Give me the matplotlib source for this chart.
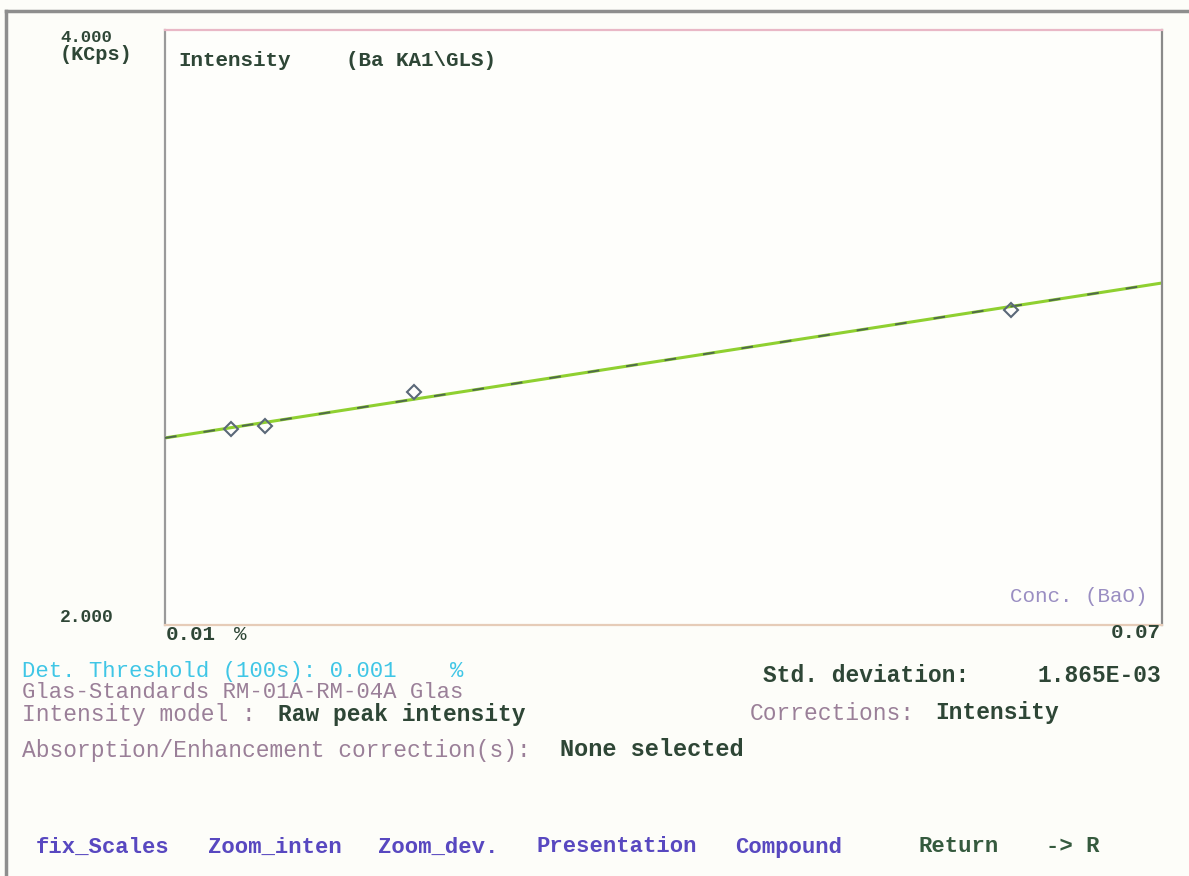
import matplotlib
matplotlib.use("Agg")
import matplotlib.pyplot as plt
from matplotlib.lines import Line2D
import numpy as np

# Calibration standards: concentration of BaO (%) vs. measured intensity (kcps)
conc = [0.0140, 0.0160, 0.0250, 0.0609]
intensity = [2.659, 2.669, 2.783, 3.059]

# Regression line of the calibration
fit_slope = 8.68
fit_intercept = 2.542

x_min, x_max = 0.01, 0.07
y_min, y_max = 2.0, 4.0

W, H = 1189, 876
fig = plt.figure(figsize=(W / 100, H / 100), dpi=100)
fig.patch.set_facecolor("#fdfdf9")

FONT = "Liberation Mono"
DARK = "#2e4636"
CYAN = "#3fc6e6"
PURP = "#9a7f98"
LAV = "#9a8ec2"
MENU = "#5848c0"


def px(x, y):
    return x / W, 1 - y / H


ax = fig.add_axes([165 / W, 1 - 625 / H, (1162 - 165) / W, (625 - 30) / H])
ax.set_facecolor("#fefefb")
ax.set_xlim(x_min, x_max)
ax.set_ylim(y_min, y_max)
ax.set_xticks([])
ax.set_yticks([])
ax.spines["top"].set_color("#e9b8c6")
ax.spines["bottom"].set_color("#e6ccb8")
ax.spines["left"].set_color("#9a9a9a")
ax.spines["right"].set_color("#8a8a8a")
for s in ax.spines.values():
    s.set_linewidth(1.6)

xs = np.array([x_min, x_max])
ys = fit_intercept + fit_slope * xs
ax.plot(xs, ys, color="#8fd030", lw=2.2, zorder=2)
ax.plot(xs, ys, color="#4f6a4a", lw=1.4, ls=(0, (6, 14)), zorder=3)
ax.plot(conc, intensity, ls="none", marker="D", ms=7, mfc="none",
        mec="#5a6878", mew=1.5, zorder=4)

# outer window border
fig.add_artist(Line2D([6 / W, 1], [1 - 11 / H, 1 - 11 / H], color="#8e8e8e", lw=2.5))
fig.add_artist(Line2D([6 / W, 6 / W], [0, 1 - 11 / H], color="#8e8e8e", lw=2.5))


def t(x, y, s, color=DARK, size=16, ha="left", weight="bold"):
    fig.text(*px(x, y), s, color=color, fontsize=size, ha=ha, va="center",
             family=FONT, weight=weight)


# axis labels
t(60, 37, "4.000", size=12.5)
t(60, 55, "(KCps)", size=14.5)
t(178, 60, "Intensity", size=15)
t(346, 60, "(Ba KA1\\GLS)", size=15)
t(60, 617, "2.000", size=13)
t(166, 634, "0.01", size=15)
t(234, 634, "%", size=15, weight="normal")
t(1161, 632, "0.07", size=15, ha="right")
t(1147, 597, "Conc. (BaO)", color=LAV, size=15, ha="right", weight="normal")

# information block
t(22, 671, "Det. Threshold (100s): 0.001    %", color=CYAN, size=16, weight="normal")
t(763, 675, "Std. deviation:", size=16.5)
t(1161, 675, "1.865E-03", size=16.5, ha="right")
t(22, 693, "Glas-Standards RM-01A-RM-04A Glas", color=PURP, size=16, weight="normal")
t(22, 714, "Intensity model :", color=PURP, size=16.5, weight="normal")
t(278, 714, "Raw peak intensity", size=16.5)
t(750, 713, "Corrections:", color=PURP, size=16.5, weight="normal")
t(935, 713, "Intensity", size=16.5)
t(22, 750, "Absorption/Enhancement correction(s):", color=PURP, size=16.5, weight="normal")
t(560, 750, "None selected", size=17)

# function-key menu
menu = [("fix_Scales", 36), ("Zoom_inten", 208), ("Zoom_dev.", 378),
        ("Presentation", 537), ("Compound", 735)]
for label, x in menu:
    t(x, 847, label, color=MENU, size=16)
t(919, 846, "Return", color="#355a3e", size=16)
t(1046, 846, "-> R", color="#355a3e", size=16)

fig.savefig("out.png", dpi=100, facecolor=fig.get_facecolor())
